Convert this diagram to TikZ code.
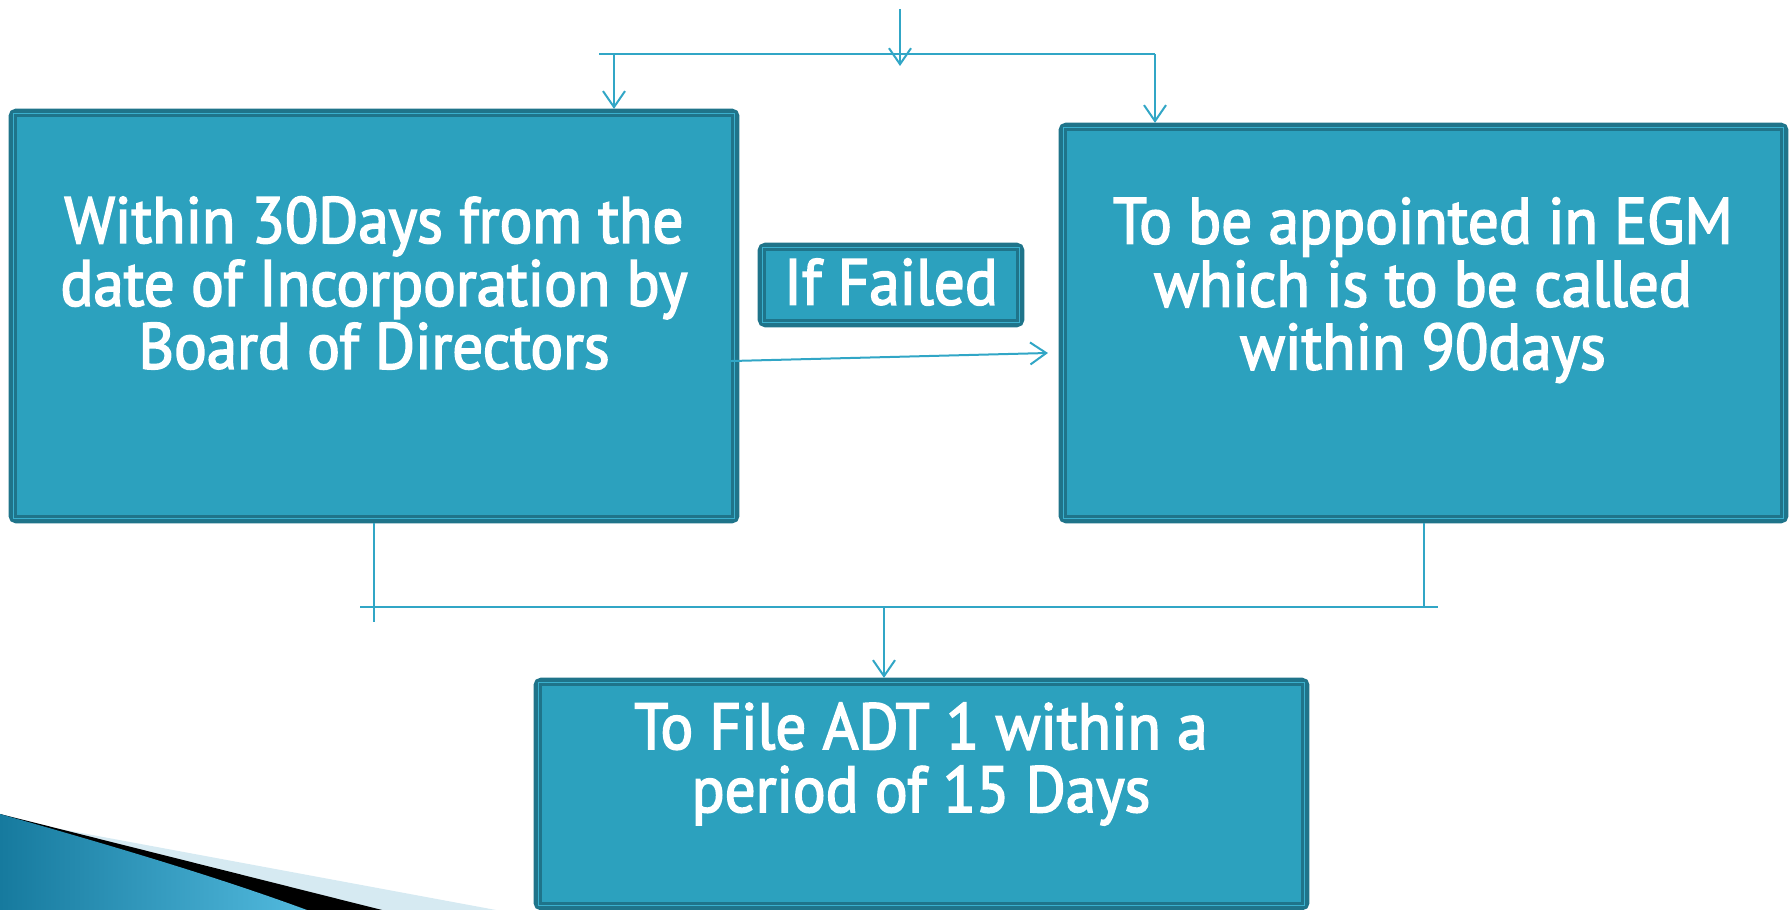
\documentclass[tikz,border=0pt]{standalone}
\usepackage{fontspec}
\setmainfont{PT Sans}[FakeStretch=0.94,FakeBold=2.5]
\usetikzlibrary{arrows.meta,positioning}

\definecolor{boxfill}{RGB}{44,161,190}
\definecolor{boxedge}{RGB}{31,116,138}
\definecolor{boxlight}{RGB}{58,176,206}
\definecolor{linkblue}{RGB}{49,166,198}
\definecolor{swooshpale}{RGB}{214,234,242}
\definecolor{swooshdeep}{RGB}{22,122,158}
\definecolor{swooshsky}{RGB}{82,186,222}

\tikzset{
  stage/.style={draw=boxedge, fill=boxfill, line width=0.075cm, rounded corners=0.04cm, outer sep=0.035cm, inner sep=0pt},
  words/.style={text=white, align=center, font=\fontsize{18.5}{17.9}\selectfont},
  wire/.style={draw=linkblue, line width=0.02cm},
  feed/.style={wire, -{Straight Barb[length=0.16cm,width=0.22cm]}},
}

\begin{document}
\begin{tikzpicture}[x=0.01cm, y=-0.01cm]
  \useasboundingbox (0,0) rectangle (1790,910);

  % swoosh in the lower left corner
  \fill[swooshpale] (0,814) -- (60,829) -- (496,910) -- (0,910) -- cycle;
  \fill[black] (0,814) -- (382,910) -- (0,910) -- cycle;
  \shade[left color=swooshdeep, right color=swooshsky] (0,814) .. controls (120,848) and (220,878) .. (307,910) -- (0,910) -- cycle;

  % boxes
  \node[stage, minimum width=7.23cm, minimum height=4.07cm] (within) at (374,316) {};
  \node[stage, minimum width=7.22cm, minimum height=3.93cm] (egm) at (1423.5,323) {};
  \node[stage, minimum width=2.59cm, minimum height=0.77cm] (failed) at (891,285) {};
  \node[stage, minimum width=7.68cm, minimum height=2.25cm] (adt) at (921.5,794) {};

  % inner frames
  \foreach \n in {within, egm, failed, adt} {
    \draw[boxlight, line width=0.015cm] ([xshift=0.045cm,yshift=-0.045cm]\n.north west) rectangle ([xshift=-0.045cm,yshift=0.045cm]\n.south east);
    \draw[boxedge, line width=0.025cm] ([xshift=0.065cm,yshift=-0.065cm]\n.north west) rectangle ([xshift=-0.065cm,yshift=0.065cm]\n.south east);
  }

  % texts
  \node[words] (withintext) at (374,283) {Within 30Days from the\\date of Incorporation by\\Board of Directors};
  \node[words] (egmtext) at (1423,290) {To be appointed in EGM\\which is to be called\\within 90days};
  \node[words] (failedtext) at (891,282) {If Failed};
  \node[words] (adttext) at (921,764) {To File ADT 1 within a\\period of 15 Days};

  % fork at the top
  \coordinate (src) at (900,9);
  \coordinate (srctip) at (900,66);
  \coordinate (forkL) at (599,54);
  \coordinate (forkR) at (1155,54);
  \coordinate (dropL) at (614,54);
  \draw[wire] (forkL) -- (forkR);
  \draw[feed] (src) -- (srctip);
  \draw[feed] (dropL) -- (dropL |- within.north);
  \draw[feed] (forkR) -- (forkR |- egm.north);

  % if failed
  \coordinate (failtip) at (1048,353);
  \draw[feed] ([xshift=-0.08cm,yshift=-0.45cm]within.east) -- (failtip);

  % join at the bottom
  \coordinate (legL) at (374,622);
  \coordinate (legR) at (1424,607);
  \coordinate (joinL) at (360,607);
  \coordinate (joinR) at (1438,607);
  \coordinate (joinM) at (884,607);
  \draw[wire] (legL |- within.south) -- (legL);
  \draw[wire] (legR |- egm.south) -- (legR);
  \draw[wire] (joinL) -- (joinR);
  \draw[feed] (joinM) -- (joinM |- adt.north);
\end{tikzpicture}
\end{document}
